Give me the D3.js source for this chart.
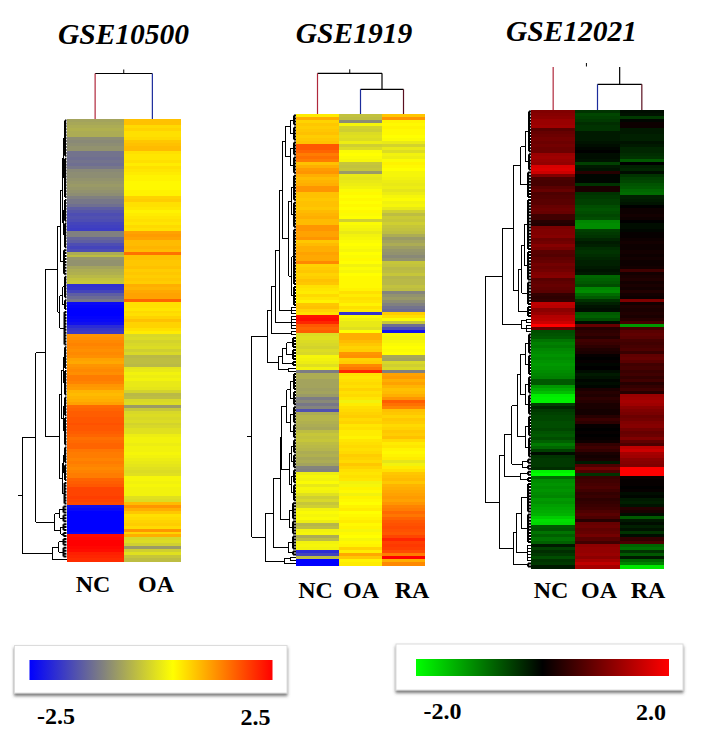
<!DOCTYPE html>
<html>
<head>
<meta charset="utf-8">
<title>GSE heatmaps</title>
<script src="https://cdn.jsdelivr.net/npm/d3@7"></script>
<style>
  html, body { margin: 0; padding: 0; background: #fff; }
  svg { display: block; }
  text { font-family: "Liberation Serif", serif; font-weight: bold; fill: #000; }
</style>
</head>
<body>
<div id="chart"></div>
<script>
// one line = 10 rows, every column has 150 rows
var gse10500NC = [
  -0.6,-0.55,-0.5,-0.45,-0.5,-0.5,-0.85,-0.9,-0.85,-0.8,
  -0.8,-1.15,-1.15,-1.2,-1.15,-1.2,-1.1,-0.9,-0.85,-0.85,
  -0.8,-0.75,-0.7,-0.75,-0.8,-0.85,-1.0,-1.1,-1.1,-1.2,
  -1.4,-1.5,-1.6,-1.55,-1.6,-1.7,-1.75,-1.8,-1.0,-1.0,
  -1.3,-1.4,-1.6,-1.7,-1.6,-0.5,-0.3,-0.75,-0.8,-0.8,
  -0.6,-0.5,-0.45,-0.35,-0.25,-0.2,-1.95,-1.9,-1.7,-1.4,
  -1.25,-1.1,-2.4,-2.45,-2.5,-2.5,-2.5,-2.45,-2.4,-2.3,
  -2.0,-1.85,-1.8,1.3,1.35,1.4,1.45,1.4,1.35,1.4,
  1.35,1.2,1.15,1.3,1.35,1.4,1.35,1.5,1.5,1.45,
  1.3,1.25,1.05,1.0,1.05,1.1,1.2,1.65,1.7,1.75,
  1.75,1.8,1.8,1.85,1.8,1.8,1.75,1.7,1.6,1.65,
  1.7,1.7,1.55,1.5,1.5,1.45,1.5,1.45,1.4,1.45,
  1.5,1.5,1.7,1.75,1.8,1.95,1.95,1.95,2.0,1.95,
  1.9,-2.3,-2.4,-2.5,-2.5,-2.5,-2.5,-2.5,-2.5,-2.5,
  -2.4,2.4,2.45,2.5,2.5,2.45,2.4,2.25,2.2,2.15
];
var gse10500OA = [
  .95,.95,.75,.8,.7,.7,.75,.9,.95,1.0,
  1.0,.7,.65,.65,.7,.6,.7,.65,.6,.55,
  .55,.5,.5,.5,.55,.55,.8,.85,.7,.7,
  .65,.55,.6,.65,.7,.65,.75,.7,1.2,1.25,
  1.2,1.0,1.0,1.05,1.0,1.6,.95,.95,.9,.9,
  .95,.85,.9,.85,.9,.85,1.1,1.05,1.15,1.2,
  1.2,1.7,.7,.7,.65,.75,.7,.8,.95,.8,
  .8,.7,.6,.0,.05,-.05,.0,.05,-.1,.0,
  -.35,-.3,-.3,-.35,.15,.2,.3,.25,.3,.2,
  .2,.15,-.05,-.35,-.3,.0,.05,-.7,-.2,.0,
  .05,.0,.05,-.05,.0,.1,.1,.25,.3,.3,
  .25,.3,.3,.35,.3,.25,.2,.15,.1,.05,
  .1,.35,.35,.3,.35,.3,.3,.3,.1,.05,
  1.0,1.3,1.1,.9,.7,.75,.8,.85,.75,1.3,
  .8,1.1,.0,.05,-.1,-.7,-.1,.1,-.2,-.3
];

var gse1919NC = [
  .6,1.1,.8,.9,.85,.9,.95,.85,.9,.95,
  1.8,1.8,1.7,1.5,1.6,1.5,.95,1.1,1.25,1.3,
  1.1,1.0,1.05,1.1,1.3,1.3,.95,.95,.9,.95,
  .95,.9,1.0,1.05,1.1,1.0,1.0,1.3,1.3,1.2,
  1.2,1.3,.9,1.0,1.1,1.1,1.2,1.15,1.15,1.4,
  .8,.85,.9,.8,.85,.95,.9,.7,.65,.6,
  .75,.65,.55,.9,.95,.8,.7,2.35,2.4,2.2,
  1.8,1.7,1.75,.05,.1,.05,.0,-.05,.05,.0,
  .35,.3,.25,.1,.3,-1.05,-.5,-.5,-.6,-.6,
  -.6,-.65,-.6,-.7,-1.05,-.9,-1.1,-.95,-1.55,-.5,
  -.4,-.4,-.45,-.5,-.55,-.3,-.2,-.25,-.2,-.3,
  -.35,-.4,-.5,-.45,-.55,-.5,-.6,-.95,-1.0,.25,
  .35,.3,.4,.2,.35,.3,.1,-.1,.0,-.2,
  -.1,.3,.4,.35,.4,.25,-.4,-.3,.3,.35,
  -.5,-.3,.3,.35,.3,-2.0,-1.7,-.3,-2.5,-2.5
];
var gse1919OA = [
  -.25,-.3,-.85,.35,-.05,-.1,.05,.1,.05,.25,
  -.1,.05,.4,.45,.4,.35,-.2,-.25,-.2,-.7,
  .2,.15,.2,.25,.3,.4,.5,.45,.5,.45,
  .5,.45,.5,.4,.45,-.1,.4,.35,.3,.2,
  .3,.35,.4,.45,.4,.35,.45,.4,.5,.45,
  .3,.4,.35,.45,.5,.5,.5,.5,.55,.7,
  .6,.7,.65,.55,.7,.6,-1.9,.4,.3,.2,
  .2,.1,.45,1.1,1.1,1.0,.9,.8,.85,1.3,
  1.35,.8,.85,1.4,1.55,2.2,.7,.65,.7,.75,
  .7,.8,.7,.75,.65,.3,.6,.7,.75,.8,
  .85,.75,.8,.65,.7,.6,.6,.55,.65,.7,
  .75,.7,.75,.85,.8,.75,.9,.8,.7,.65,
  .7,.65,.3,.35,.55,.5,.3,.55,.5,.45,
  .55,.6,.45,.5,.55,.6,.5,.55,.35,.5,
  .45,.35,.5,.55,.8,.6,1.15,.9,.55,.6
];
var gse1919RA = [
  .9,1.3,.55,.5,.55,.5,.5,.45,.4,.2,
  -.05,.2,.05,.3,.25,.4,.55,.5,.45,.35,
  .35,.3,.25,.2,.25,.15,.25,.35,.4,.3,
  .35,.2,-.1,-.3,-.15,-.2,-.1,-.2,-.25,-.3,
  -.5,-.7,-.6,-.5,-.65,-.75,-.8,-.9,-.8,-.2,
  -.25,-.35,-.3,-.2,-.4,-.35,-.35,-.25,-.3,-.95,
  -.8,-.7,-.85,-1.0,-1.15,-1.25,.85,.7,.4,-.2,
  -1.2,-1.6,-2.3,.35,.3,.35,.4,.45,.4,.45,
  -.55,-.6,.0,-.1,.0,-1.0,1.2,1.25,1.1,1.2,
  1.05,.95,1.0,1.1,1.3,1.75,1.6,1.45,.95,.9,
  .8,.9,.85,.75,.8,.9,.85,.95,.75,.6,
  .65,.55,.5,.55,.6,.15,.3,.6,.7,.9,
  .95,1.0,.9,1.05,1.1,1.15,1.2,1.25,1.2,1.3,
  1.45,1.5,1.65,1.55,1.7,1.8,1.85,1.9,1.85,1.8,
  1.95,2.2,2.0,2.05,2.0,1.9,1.5,2.5,1.1,1.4
];

var gse12021NC = [
  1.0,1.05,1.1,1.2,1.2,1.25,.7,.8,.85,.9,
  .85,.9,.85,.85,1.2,1.25,1.2,1.15,1.7,1.75,
  1.6,1.0,.6,.55,.55,.7,.8,.6,.65,.7,
  .7,.8,.85,.8,.5,.5,.3,.25,.95,1.0,
  1.0,1.05,.85,.9,1.05,.95,.7,.65,.75,.8,
  .9,.85,.9,1.0,1.05,.7,.75,.8,.75,.7,
  .4,.35,.4,1.5,1.45,1.1,1.2,1.4,1.45,1.6,
  2.0,.8,-.6,-.65,-.7,-.9,-1.0,-.95,-1.05,-1.1,
  -1.15,-1.1,-1.15,-1.2,-1.15,-1.1,-1.05,-1.0,-.7,-.7,
  -1.2,-1.35,-1.5,-1.85,-1.9,-1.9,-.5,-.3,-.45,-.5,
  -.55,-.55,-.6,-.6,-.55,-.65,-.7,-.6,-.75,-.95,
  -.8,-.5,-.1,-.4,-.45,-.45,-.45,-.35,-1.9,-2.0,
  -.85,-1.1,-1.15,-1.1,-1.15,-1.1,-1.05,-1.2,-1.15,-1.25,
  -1.3,-1.35,-1.4,-1.6,-1.75,-1.7,-.7,-.65,-.9,-.75,
  -.9,-.75,-.2,-.5,-.35,-.45,-.6,-.4,-.45,-.2
];
var gse12021OA = [
  -.4,-.55,-.5,-.45,-.35,-.4,-.4,-.2,-.2,-.2,
  -.15,-.1,-.05,.0,-.1,-.1,-.15,-.5,-.2,-.15,
  .3,-.05,-.05,-.05,-.4,.2,.2,-.4,-.45,-.5,
  -.5,-.6,-.65,-.6,-.55,-.6,-1.05,-1.1,-1.1,-.5,
  -.45,-.4,-.3,-.2,-.25,-.35,-.4,-.35,-.3,-.25,
  -.25,-.2,-.15,-.2,-.8,-.75,-.7,-.6,-1.05,-1.1,
  -.85,-.7,-.4,-.25,-.15,-.1,-.7,-.75,-.6,-.1,
  .8,.3,.35,.4,.3,.5,.45,.35,.25,.2,
  .05,.0,.05,-.05,.0,-.1,-.2,-.15,-.05,-.1,
  -.05,.2,.3,.25,.35,.3,.2,.2,.15,.15,
  .3,.45,.35,.05,.0,.05,.0,.05,.1,.4,
  .5,.4,.2,.15,.2,-.2,.6,.9,.6,-.4,
  .45,.5,.55,.6,.5,.4,.45,.35,.4,.45,
  .5,.6,.7,.6,.3,.8,.85,.75,.8,.9,
  .7,.5,1.1,1.15,1.15,1.2,1.1,1.3,1.5,1.3
];
var gse12021RA = [
  -.1,-.15,-.45,-.05,.1,.1,-.2,-.2,-.25,-.25,
  -.15,-.2,-.3,-.3,-.35,-.4,-.7,.0,-.25,-.3,
  -.1,-.4,-.5,-.55,-.65,-.7,-.8,-.85,-.25,-.2,
  -.15,.0,.1,.1,.15,.1,.0,-.1,-.1,-.05,
  .05,.05,.1,.15,.1,.1,.15,.1,.15,.1,
  .1,.15,.5,.15,.2,.25,.15,.2,.15,.25,
  .15,.1,1.0,.15,.25,.2,.25,.2,.3,.55,
  -1.2,.55,.7,.75,.7,.55,.5,.55,.6,.45,
  .75,.8,.7,.5,.55,.45,.5,.4,.5,.3,
  .4,.5,.3,1.2,1.25,1.3,1.25,1.1,1.0,.95,
  .85,.9,1.0,1.05,.9,.8,.85,1.0,.75,.6,
  1.5,1.6,1.3,1.25,1.1,1.05,1.0,2.0,2.0,2.0,
  .1,.05,.05,.0,.05,-.1,-.05,-.2,-.25,-.15,
  .3,.2,-.1,-.7,-.2,-.1,-.25,-.15,-.4,-.1,
  .4,.6,-.8,-.9,-.4,-.7,-.2,-.8,-1.0,-1.8
];

// gene trees: [merge height, child, child...], a plain number is a row
var treeRows10500 = [44.5,
  [31,
    [21,
      [9,
        [6,
          [4.5,
            [3,[1.5,0,1,2,3,4,5,6,7,8,9,10,11,12],[1.5,13,14,15,16,17,18,19,20,21,22,23,24,25,26]],
            [3,[1.5,27,28,29,30,31,32,33,34],[1.5,35,36,37,38,39,40,41,42,43]]],
          [2.5,44,45,46,47,48,49,50,51,52]],
        [7,
          [4,[1.5,53,54,55,56,57,58,59,60],[1.5,61,62,63,64]],
          [2,65,66,67,68,69,70,71,72,73,74,75,76]]],
      [7.5,
        [5.5,
          [3.5,[1.5,77,78,79,80,81,82,83,84],[1.5,85,86,87,88,89,90,91,92,93]],
          [3,[1.5,94,95,96,97,98,99,100],[1.5,101,102,103,104,105,106,107,108,109,110]]],
        [4.5,
          [3,[1.5,111,112,113,114,115,116],[1.5,117,118,119,120,121,122]],
          [2,123,124,125,126,127,128,129,130]]]],
    [12,[7,[3,131,132,133],[3,134,135,136]],[6,[3,137,138,139],[3,140,141]]]],
  [14,[8,[3,142,143,144],[3,145,146,147,148]],149]];

var treeRows1919 = [44.3,
  [28.7,
    [24.7,
      [20.7,
        [16.7,
          [13.7,
            [10.7,[6,[2,0,1,2,3],[2,4,5,6,7,8]],[6,[2,9,10,11,12,13],[2,14,15,16,17,18,19]]],
            [7.3,
              [5,[2,20,21,22,23,24,25,26,27,28],[2,29,30,31,32,33,34,35,36,37]],
              [4.5,[2,38,39,40,41,42,43,44,45,46,47,48,49,50,51,52,53,54,55,56],[2,57,58,59,60,61,62,63]]]],
          [5,64,65,66]],
        [5,67,68,69,70,71]],
      [5,72,73]],
    [17.7,
      [14,[9.3,[3,74,75,76,77],[3,78,79,80,81]],[3,82,83]],
      [8,84,85]]],
  [31,
    [22.7,
      [16,
        [15,
          [9.3,
            [6,[2,86,87,88,89,90,91],[2,92,93,94,95,96]],
            [6,[2,97,98,99,100,101,102],[2,103,104,105,106,107]]],
          [7,
            [5,[2,108,109,110,111,112],[2,113,114,115,116,117]],
            [5,[2,118,119,120,121,122],[2,123,124,125,126,127,128]]]],
        [7,[3,129,130,131,132,133,134],[3,135,136,137,138,139]]],
      [8,[3,140,141,142,143,144],[3,145,146]]],
    [12,[6,147,148],149]]];

var treeRows12021 = [45.7,
  [28.7,
    [17.7,
      [10.3,
        [6,[2,0,1,2,3,4,5,6,7,8,9,10,11,12,13],[2,14,15,16,17,18,19]],
        [3,20,21,22,23,24,25,26,27,28]],
      [12.7,
        [9.3,
          [7,[3,29,30,31,32,33,34,35,36,37,38,39,40,41,42,43,44,45],[3,46,47,48,49,50,51,52,53,54,55]],
          [3,56,57,58,59,60,61,62,63]],
        [3,64,65,66,67]]],
    [10,[5,68,69],[5,70,71,72]]],
  [31.7,
    [26.7,
      [19.3,
        [13.7,
          [11,
            [6,[2,73,74,75,76,77,78,79],[2,80,81,82,83,84,85,86]],
            [6,[2,87,88,89,90,91,92],[2,93,94,95,96,97,98,99]]],
          [6,[2,100,101,102,103,104,105,106],[2,107,108,109,110,111,112,113]]],
        [9,[3,114,115],[3,116,117]]],
      [11,[3,118,119],[3,120,121]]],
    [17.7,
      [15,
        [10,[3,122,123,124,125,126,127,128,129,130,131],[3,132,133,134,135,136,137,138,139,140,141]],
        [4,142,143,144,145,146,147]],
      [3,148,149]]]];

// sample trees: same form, a plain number is a column
var treeCols10500 = [45.5, 0, 1];
var treeCols1919 = [40.7, 0, [24.7, 1, 2]];
var treeCols12021 = [43, 0, [25.7, 1, 2]];

var samples2 = ["NC", "OA"];
var samples3 = ["NC", "OA", "RA"];
var datasetNames = ["GSE10500", "GSE1919", "GSE12021"];

var heatDomain = [-2.5, -1, 0.45, 2.5];
var heatColors = ["#0000ff", "#808080", "#ffff00", "#ff0000"];
var greenDomain = [-2, 0, 2];
var greenColors = ["#00ff00", "#000000", "#ff0000"];
var heatTicks = ["-2.5", "2.5"];
var greenTicks = ["-2.0", "2.0"];

var heatScale = d3.scaleLinear().domain(heatDomain).range(heatColors);
var greenScale = d3.scaleLinear().domain(greenDomain).range(greenColors);

var svg = d3.select("#chart").append("svg")
    .attr("width", 708)
    .attr("height", 743);

var defs = svg.append("defs");
var shadow = defs.append("filter").attr("id", "boxShadow")
    .attr("x", "-5%").attr("y", "-20%").attr("width", "110%").attr("height", "150%");
shadow.append("feDropShadow")
    .attr("dx", 0).attr("dy", 2.5).attr("stdDeviation", 1.6)
    .attr("flood-color", "#555").attr("flood-opacity", 0.8);

// the source is a soft jpeg, bands run into each other a bit
var soften = defs.append("filter").attr("id", "soften")
    .attr("color-interpolation-filters", "sRGB");
soften.append("feGaussianBlur").attr("stdDeviation", "0 0.6");

var panels = [
  { name: datasetNames[0], samples: samples2, columns: [gse10500NC, gse10500OA], color: heatScale,
    rows: treeRows10500, cols: treeCols10500, left: 66.5, right: 181, top: 119, bottom: 561,
    titleX: 123.5, titleY: 43.5, labelX: [93, 156], labelY: 592, rootTick: 4.5, hideColRoot: false },
  { name: datasetNames[1], samples: samples3, columns: [gse1919NC, gse1919OA, gse1919RA], color: heatScale,
    rows: treeRows1919, cols: treeCols1919, left: 296, right: 425, top: 114, bottom: 565,
    titleX: 354, titleY: 43, labelX: [315.5, 361, 412], labelY: 598, rootTick: 4.5, hideColRoot: false },
  { name: datasetNames[2], samples: samples3, columns: [gse12021NC, gse12021OA, gse12021RA], color: greenScale,
    rows: treeRows12021, cols: treeCols12021, left: 531, right: 664, top: 110, bottom: 568,
    titleX: 571.5, titleY: 41, labelX: [551, 599, 648], labelY: 598, rootTick: 0, hideColRoot: true }
];

var stemColors = ["#b0283c", "#1c2c9c", "#5a1020"];

panels.forEach(function (p) {
  var g = svg.append("g");

  var xBand = d3.scaleBand().domain(d3.range(p.samples.length)).range([p.left, p.right]);
  var yBand = d3.scaleBand().domain(d3.range(p.columns[0].length)).range([p.top, p.bottom]);

  // heat cells
  var cells = g.append("g").attr("filter", "url(#soften)");
  p.columns.forEach(function (values, c) {
    cells.append("g").selectAll("rect")
        .data(values)
        .enter().append("rect")
        .attr("x", xBand(c))
        .attr("y", function (d, i) { return yBand(i); })
        .attr("width", xBand.bandwidth())
        .attr("height", yBand.bandwidth() + 0.5)
        .attr("shape-rendering", "crispEdges")
        .style("fill", function (d) { return p.color(d); });
  });

  // gene dendrogram on the left
  var hx = d3.scaleLinear().domain([0, 50]).range([p.left, p.left - 50]);
  var rowRoot = d3.hierarchy(p.rows, function (d) { return Array.isArray(d) ? d.slice(1) : null; });
  rowRoot.eachAfter(function (n) {
    if (n.children) {
      n.h = n.data[0];
      n.pos = (n.children[0].pos + n.children[n.children.length - 1].pos) / 2;
    } else {
      n.h = 0;
      n.pos = yBand(n.data) + yBand.bandwidth() / 2;
    }
  });
  var rowPath = d3.path();
  var leafPath = d3.path();   // last merges are drawn heavier, they sit almost solid black
  rowRoot.descendants().filter(function (n) { return n.children; }).forEach(function (n) {
    var first = n.children[0], last = n.children[n.children.length - 1];
    var pen = (n.height === 1 && n.h <= 3.5) ? leafPath : rowPath;
    pen.moveTo(hx(n.h), first.pos);
    pen.lineTo(hx(n.h), last.pos);
    n.children.forEach(function (k) {
      pen.moveTo(hx(n.h), k.pos);
      pen.lineTo(hx(k.h), k.pos);
    });
  });
  if (p.rootTick) {
    rowPath.moveTo(hx(rowRoot.h), rowRoot.pos);
    rowPath.lineTo(hx(rowRoot.h + p.rootTick), rowRoot.pos);
  }
  g.append("path")
      .attr("d", rowPath.toString())
      .attr("fill", "none")
      .attr("stroke", "#000")
      .attr("stroke-width", 1)
      .attr("shape-rendering", "crispEdges");
  g.append("path")
      .attr("d", leafPath.toString())
      .attr("fill", "none")
      .attr("stroke", "#000")
      .attr("stroke-width", 2);

  // sample dendrogram on top
  var hy = d3.scaleLinear().domain([0, 50]).range([p.top, p.top - 50]);
  var colRoot = d3.hierarchy(p.cols, function (d) { return Array.isArray(d) ? d.slice(1) : null; });
  colRoot.eachAfter(function (n) {
    if (n.children) {
      n.h = n.data[0];
      n.pos = (n.children[0].pos + n.children[n.children.length - 1].pos) / 2;
    } else {
      n.h = 0;
      n.pos = xBand(n.data) + xBand.bandwidth() / 2;
    }
  });
  colRoot.descendants().filter(function (n) { return n.children; }).forEach(function (n) {
    if (!(n === colRoot && p.hideColRoot)) {
      g.append("line")
          .attr("x1", n.children[0].pos).attr("x2", n.children[n.children.length - 1].pos)
          .attr("y1", hy(n.h)).attr("y2", hy(n.h))
          .attr("stroke", "#000").attr("stroke-width", 1.2);
    }
    n.children.forEach(function (k) {
      g.append("line")
          .attr("x1", k.pos).attr("x2", k.pos)
          .attr("y1", hy(n.h)).attr("y2", hy(k.h))
          .attr("stroke", k.children ? "#000" : stemColors[k.data])
          .attr("stroke-width", 1.2);
    });
  });
  g.append("line")
      .attr("x1", colRoot.pos).attr("x2", colRoot.pos)
      .attr("y1", hy(colRoot.h) - (p.hideColRoot ? 0.5 : 0)).attr("y2", hy(colRoot.h + 4))
      .attr("stroke", "#000").attr("stroke-width", 1);

  g.append("text")
      .attr("x", p.titleX).attr("y", p.titleY)
      .attr("text-anchor", "middle")
      .style("font-size", "29.5px")
      .style("font-style", "italic")
      .text(p.name);

  g.selectAll("text.sample")
      .data(p.samples)
      .enter().append("text")
      .attr("class", "sample")
      .attr("x", function (d, i) { return p.labelX[i]; })
      .attr("y", p.labelY)
      .attr("text-anchor", "middle")
      .style("font-size", "24px")
      .text(function (d) { return d; });
});

// colour keys
var keys = [
  { id: "keyHeat", scale: heatScale, domain: heatDomain, ticks: heatTicks,
    box: [14.5, 645.5, 272.5, 47.5], bar: [29.5, 660, 243, 20], tickX: [56, 255.5], tickY: [724, 725] },
  { id: "keyGreen", scale: greenScale, domain: greenDomain, ticks: greenTicks,
    box: [396, 644, 287, 46], bar: [416, 659, 253, 17], tickX: [442.5, 651], tickY: [719, 720] }
];

keys.forEach(function (k) {
  var lo = k.domain[0], hi = k.domain[k.domain.length - 1];
  var grad = defs.append("linearGradient").attr("id", k.id);
  grad.selectAll("stop")
      .data(k.domain)
      .enter().append("stop")
      .attr("offset", function (d) { return (d - lo) / (hi - lo); })
      .attr("stop-color", function (d) { return k.scale(d); });

  svg.append("rect")
      .attr("x", k.box[0]).attr("y", k.box[1])
      .attr("width", k.box[2]).attr("height", k.box[3])
      .attr("fill", "#fff")
      .attr("stroke", "#dcdcdc")
      .attr("filter", "url(#boxShadow)");

  svg.append("rect")
      .attr("x", k.bar[0]).attr("y", k.bar[1])
      .attr("width", k.bar[2]).attr("height", k.bar[3])
      .attr("fill", "url(#" + k.id + ")");

  k.ticks.forEach(function (t, i) {
    svg.append("text")
        .attr("x", k.tickX[i]).attr("y", k.tickY[i])
        .attr("text-anchor", "middle")
        .style("font-size", "24px")
        .text(t);
  });
});
</script>
</body>
</html>
